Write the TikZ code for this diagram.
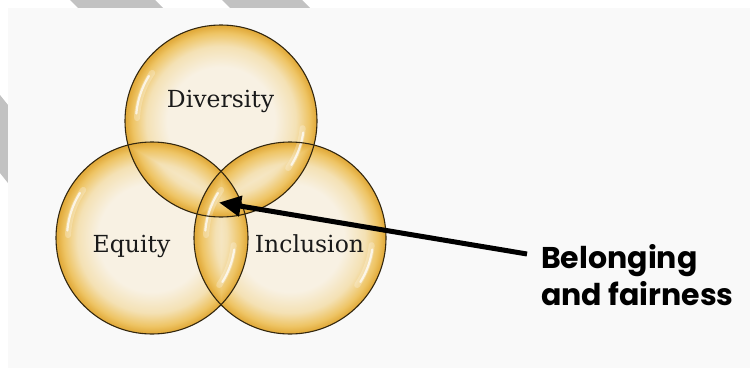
\documentclass[tikz,border=0pt]{standalone}
\usepackage{fontspec}
\usetikzlibrary{arrows.meta,calc}
\newfontfamily\serifface{DejaVu Serif}
\newfontfamily\labelface{Poppins}
\definecolor{bcream}{HTML}{F8F1E3}
\definecolor{bmid}{HTML}{F4E1B4}
\definecolor{bgold}{HTML}{EEC464}
\definecolor{bedge}{HTML}{E2AB3C}
\definecolor{rimcol}{HTML}{33270F}
\definecolor{bgcol}{HTML}{F9F9F9}
\definecolor{stripecol}{HTML}{C2C2C2}
\definecolor{textdark}{HTML}{1A1A1A}
\pgfdeclareradialshading{bubble}{\pgfpoint{0bp}{0bp}}{color(0bp)=(bcream); color(14bp)=(bcream); color(19.5bp)=(bmid); color(23bp)=(bgold); color(24.7bp)=(bedge); color(25bp)=(bedge); color(50bp)=(bedge)}
\begin{document}
\begin{tikzpicture}[x=1pt,y=1pt,
  bubblenode/.style={circle, minimum size=192pt, inner sep=0pt, draw=none},
  rim/.style={draw=rimcol, line width=1.1pt},
  glossA/.style={white, line width=6pt, opacity=0.25, line cap=round},
  glossB/.style={white, line width=2.2pt, opacity=0.75, line cap=round},
  vlabel/.style={font=\serifface\fontsize{23.5}{28}\selectfont, text=textdark, inner sep=0pt},
  sidelabel/.style={font=\labelface\bfseries\fontsize{30}{37}\selectfont, text=black, inner sep=0pt, align=left},
  pointer/.style={line width=5pt, -{Triangle[length=22pt,width=20pt]}}]
\useasboundingbox (0,0) rectangle (750,368);
\fill[white] (0,0) rectangle (750,368);
\fill[stripecol] (70,368) -- (155,368) -- (163,360) -- (78,360) -- cycle;
\fill[stripecol] (222,368) -- (302,368) -- (310,360) -- (230,360) -- cycle;
\fill[stripecol] (0,273) -- (8,263) -- (8,185) -- (0,195) -- cycle;
\fill[bgcol] (8,0) rectangle (750,360);
% circles
\node[bubblenode] (div) at (221,247) {};
\node[bubblenode] (eq) at (152,130) {};
\node[bubblenode] (inc) at (290,130) {};
\begin{scope}[blend group=darken]
  \foreach \c in {div,eq,inc} {\shade[shading=bubble] (\c.center) circle[radius=96pt];}
\end{scope}
\foreach \c in {div,eq,inc} {
  \draw[glossA] ($(\c.center)+(145:84pt)$) arc[start angle=145,end angle=178,radius=84pt];
  \draw[glossB] ($(\c.center)+(148:85pt)$) arc[start angle=148,end angle=175,radius=85pt];
  \draw[glossA] ($(\c.center)+(-35:82pt)$) arc[start angle=-35,end angle=-5,radius=82pt];
  \draw[glossB] ($(\c.center)+(-32:83pt)$) arc[start angle=-32,end angle=-8,radius=83pt];
}
\foreach \c in {div,eq,inc} {\draw[rim] (\c.center) circle[radius=96pt];}
% texts
\node[vlabel, anchor=base] (tdiv) at (220.5,261) {Diversity};
\node[vlabel, anchor=base] (teq) at (131.5,116) {Equity};
\node[vlabel, anchor=base] (tinc) at (309.5,116) {Inclusion};
\node[sidelabel, anchor=base west] (lab) at (541,63) {Belonging\\and fairness};
% arrow
\coordinate (tail) at (527,114);
\coordinate (tip) at (219,165.5);
\draw[pointer] (tail) -- (tip);
\end{tikzpicture}
\end{document}
